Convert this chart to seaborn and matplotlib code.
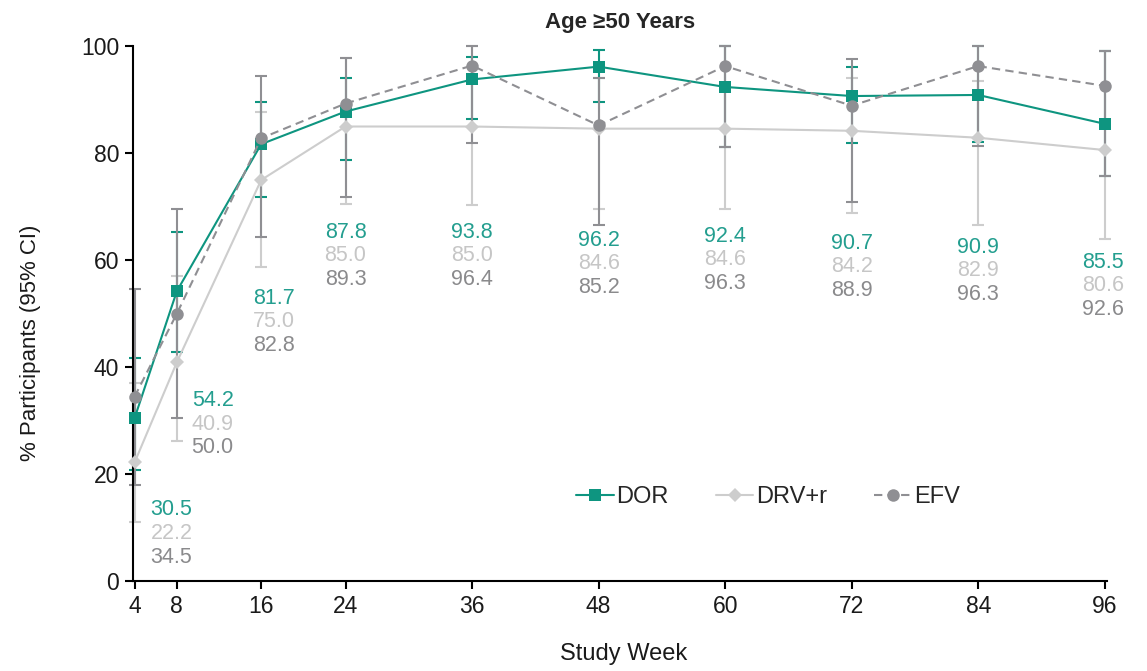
import numpy as np
import pandas as pd
import matplotlib
matplotlib.use("Agg")
import matplotlib.pyplot as plt
import seaborn as sns

# dados
weeks = [4, 8, 16, 24, 36, 48, 60, 72, 84, 96]

dor = [30.5, 54.2, 81.7, 87.8, 93.8, 96.2, 92.4, 90.7, 90.9, 85.5]
drv = [22.2, 40.9, 75.0, 85.0, 85.0, 84.6, 84.6, 84.2, 82.9, 80.6]
efv = [34.5, 50.0, 82.8, 89.3, 96.4, 85.2, 96.3, 88.9, 96.3, 92.6]

dor_lo = [20.7, 42.8, 71.8, 78.7, 86.4, 89.5, 81.2, 81.9, 82.1, 75.8]
dor_hi = [41.7, 65.2, 89.5, 94.1, 98.0, 99.4, 100.0, 96.2, 100.0, 99.1]
drv_lo = [11.0, 26.2, 58.7, 70.5, 70.3, 69.5, 69.5, 68.8, 66.5, 63.9]
drv_hi = [37.0, 57.0, 87.7, 97.9, 100.0, 94.0, 100.0, 94.0, 93.5, 99.1]
efv_lo = [18.0, 30.5, 64.3, 71.8, 81.9, 66.5, 81.2, 70.8, 81.3, 75.8]
efv_hi = [54.6, 69.5, 94.4, 97.9, 100.0, 94.0, 100.0, 97.6, 100.0, 99.1]

series = ["DOR", "DRV+r", "EFV"]

# posição dos rótulos de valor (deslocamento em semanas, topo em %)
label_dx = [3.5, 3.4, 1.2, 0, 0, 0, 0, 0, 0, -0.2]
label_top = [13.3, 33.7, 52.9, 65.2, 65.2, 63.7, 64.5, 63.2, 62.4, 59.6]
LINE_STEP = 4.4

TEAL = "#0e9580"
LIGHT = "#cdcdcd"
GRAY = "#8f8f93"
TXT_TEAL = "#239e8f"
TXT_LIGHT = "#c6c6c6"
TXT_GRAY = "#8a8a8c"

sns.set_style("white")
FONTE = ["Liberation Sans", "DejaVu Sans"]
plt.rcParams["font.family"] = FONTE

df = pd.DataFrame({
    "week": weeks * 3,
    "pct": dor + drv + efv,
    "grupo": [s for s in series for _ in weeks],
})

fig = plt.figure(figsize=(11.47, 6.71), dpi=100)
ax = fig.add_axes([0.116, 0.134, 0.849, 0.797])

# barras de IC 95%
for vals, lo, hi, cor in [(drv, drv_lo, drv_hi, LIGHT),
                          (dor, dor_lo, dor_hi, TEAL),
                          (efv, efv_lo, efv_hi, GRAY)]:
    v = np.array(vals)
    err = [v - np.array(lo), np.array(hi) - v]
    ax.errorbar(weeks, v, yerr=err, fmt="none", ecolor=cor, elinewidth=1.5,
                capsize=4, capthick=1.5, clip_on=False, zorder=1)

sns.lineplot(
    data=df, x="week", y="pct", hue="grupo", style="grupo", ax=ax,
    palette={"DOR": TEAL, "DRV+r": LIGHT, "EFV": GRAY},
    markers={"DOR": "s", "DRV+r": "D", "EFV": "o"},
    dashes={"DOR": "", "DRV+r": "", "EFV": (4, 2.5)},
    markersize=9, markeredgewidth=0, linewidth=1.5, zorder=3,
)
for ln in ax.lines:
    ln.set_clip_on(False)
    if ln.get_marker() == "D":
        ln.set_markersize(7)

# rótulos de valor
for i, w in enumerate(weeks):
    x = w + label_dx[i]
    y0 = label_top[i]
    for k, (vals, cor) in enumerate([(dor, TXT_TEAL), (drv, TXT_LIGHT), (efv, TXT_GRAY)]):
        ax.text(x, y0 - k * LINE_STEP, f"{vals[i]:.1f}", color=cor, fontsize=15.5,
                ha="center", va="center")

ax.set_xlim(3.85, 96.2)
ax.set_ylim(0, 100)
ax.set_xticks(weeks)
ax.set_yticks([0, 20, 40, 60, 80, 100])
sns.despine(ax=ax)
for s in ["left", "bottom"]:
    ax.spines[s].set_color("black")
    ax.spines[s].set_linewidth(1.5)
ax.tick_params(axis="both", direction="out", length=6, width=1.5, color="black",
               labelsize=16.5, labelcolor="#1a1a1a", pad=4, left=True, bottom=True)

ax.set_title("Age \u226550 Years", fontsize=16, fontweight="bold", pad=13)
ax.set_xlabel("Study Week", fontsize=17, color="#1a1a1a")
ax.set_ylabel("% Participants (95% CI)", fontsize=16, color="#1a1a1a")
ax.xaxis.set_label_coords(0.504, -0.116)
ax.yaxis.set_label_coords(-0.0945, 0.446)

handles, labels = ax.get_legend_handles_labels()
leg = ax.legend(handles, labels, loc="center", bbox_to_anchor=(0.652, 0.157), ncol=3,
                frameon=False, fontsize=17, handlelength=1.6, handletextpad=0.1,
                columnspacing=2.0)
for h in leg.legend_handles:
    h.set_linewidth(1.5)

fig.savefig("out.png", dpi=100)
plt.close(fig)
